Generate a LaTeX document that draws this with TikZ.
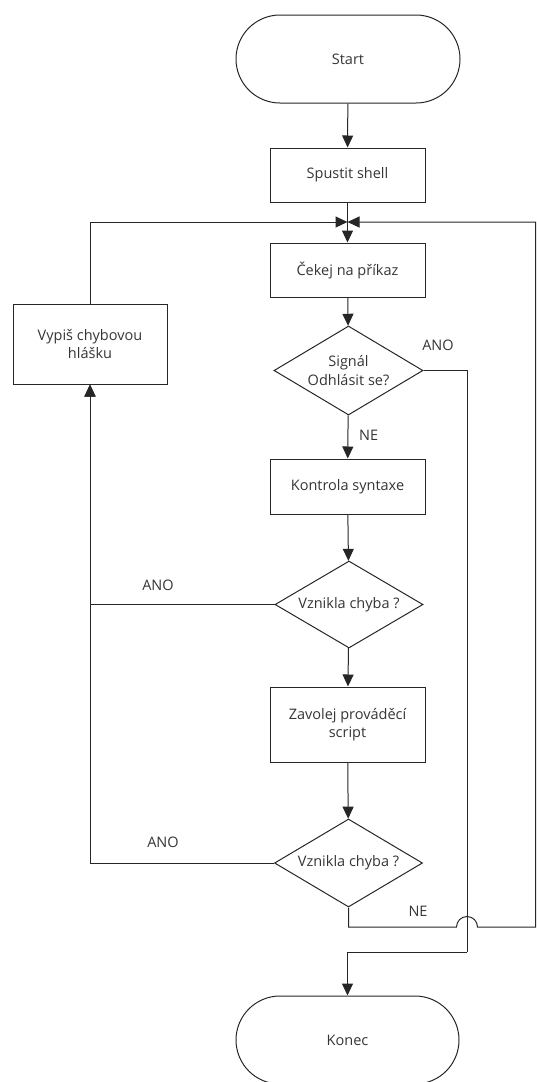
\documentclass[tikz,border=0pt]{standalone}
\usepackage{fontspec}
\setmainfont{Open Sans}
\usetikzlibrary{arrows.meta,shapes.geometric}
\definecolor{ink}{HTML}{262626}
\definecolor{txtc}{HTML}{353535}
\tikzset{
  fnt/.style={font=\fontsize{14.5}{18.5}\selectfont},
  box/.style={draw=ink, line width=1pt, rectangle, inner sep=0pt, text=txtc, align=center, fnt},
  pill/.style={box, rounded corners=44pt},
  dia/.style={draw=ink, line width=1pt, diamond, inner sep=0pt},
  dtext/.style={text=txtc, align=center, inner sep=0pt, fnt},
  lbl/.style={text=txtc, inner sep=0pt, fnt},
  line/.style={draw=ink, line width=1pt},
  arr/.style={line, -{Triangle[length=12pt,width=11pt]}},
}
\begin{document}
\begin{tikzpicture}[x=1pt,y=1pt]
\useasboundingbox (0,0) rectangle (536,-1082);
\clip (0,0) rectangle (536,-1082);

% process steps
\node[pill, minimum width=224pt, minimum height=88pt] (start) at (348,-59) {Start};
\node[box, minimum width=155pt, minimum height=54pt] (shell) at (347.5,-175) {Spustit shell};
\node[box, minimum width=155pt, minimum height=54pt] (wait) at (347.5,-270) {Čekej na příkaz};
\node[dia, minimum width=149pt, minimum height=89pt] (sig) at (348.5,-370.5) {};
\node[dtext] at (sig) {Signál\\Odhlásit se?};
\node[box, minimum width=155pt, minimum height=55pt] (kon) at (347.5,-486.5) {Kontrola syntaxe};
\node[dia, minimum width=148pt, minimum height=87pt] (d1) at (349,-604.5) {};
\node[dtext] at (d1) {Vznikla chyba ?};
\node[box, minimum width=155pt, minimum height=75pt] (call) at (347.5,-724.5) {Zavolej prováděcí\\script};
\node[dia, minimum width=148pt, minimum height=88pt] (d2) at (348.5,-863) {};
\node[dtext] at (d2) {Vznikla chyba ?};
\node[box, minimum width=154pt, minimum height=80pt] (err) at (90,-344) {Vypiš chybovou\\hlášku};
\node[pill, minimum width=223pt, minimum height=88pt] (end) at (347.5,-1040) {Konec};

% junction points
\coordinate (j) at (347.5,-222);
\coordinate (rexit) at (467,-952);
\coordinate (ne) at (348.5,-927);
\coordinate (jumpL) at (456.5,-927);
\coordinate (redge) at (535.5,-927);

% main flow
\draw[arr] (start) -- (shell);
\draw[arr] (shell) -- (wait);
\draw[arr] (wait) -- (sig);
\draw[arr] (sig) -- (kon);
\draw[arr] (kon) -- (d1);
\draw[arr] (d1) -- (call);
\draw[arr] (call) -- (d2);

% exit branch
\draw[line] (sig.east) -| (rexit);
\draw[arr] (rexit) -| (end.north);

% error branches
\draw[arr] (d1.west) -| (err.south);
\draw[arr] (d2.west) -| (err.south);
\draw[arr] (err.north) |- (j);

% loop back after a successful command
\draw[arr] (d2.south) -- (ne) -- (jumpL) arc[start angle=180, end angle=0, radius=10.5pt] -- (redge) |- (j);

% branch labels
\node[lbl] at (438,-345) {ANO};
\node[lbl, anchor=west] at (359,-435) {NE};
\node[lbl] at (158,-585) {ANO};
\node[lbl] at (163,-842) {ANO};
\node[lbl] at (418,-911) {NE};
\end{tikzpicture}
\end{document}
